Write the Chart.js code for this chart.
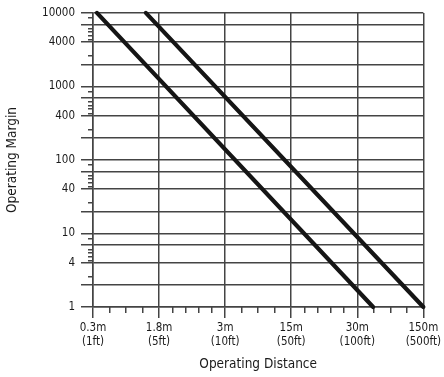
<!DOCTYPE html>
<html>
<head>
<meta charset="utf-8">
<script src="https://cdn.jsdelivr.net/npm/chart.js@4/dist/chart.umd.min.js"></script>
<style>
  html, body { margin: 0; padding: 0; background: #fff; }
  canvas { display: block; }
</style>
</head>
<body>
<canvas id="canvas" width="444" height="377"></canvas>
<script>
// distance axis: evenly spaced stations, labels in metres and feet
var distLabels = [['0.3m', '(1ft)'], ['1.8m', '(5ft)'], ['3m', '(10ft)'], ['15m', '(50ft)'], ['30m', '(100ft)'], ['150m', '(500ft)']];
var distTicks = [0, 1, 2, 3, 4, 5];
var distMinor = [0.25, 0.5, 0.75, 1.2, 1.4, 1.6, 1.8, 2.25, 2.5, 2.75, 3.2, 3.4, 3.6, 3.8, 4.25, 4.5, 4.75];

// margin axis (log)
var marginGrid = [1, 2, 4, 7, 10, 20, 40, 70, 100, 200, 400, 700, 1000, 2000, 4000, 7000, 10000];
var marginLabels = [1, 4, 10, 40, 100, 400, 1000, 4000, 10000];
var marginMinor = [2.6, 4.3, 4.9, 5.5, 6.1, 8.5,
                   26, 43, 49, 55, 61, 85,
                   260, 430, 490, 550, 610, 850,
                   2600, 4300, 4900, 5500, 6100, 8500];

// the two curves: distance station vs operating margin
var shortDist = [0.06, 4.24];
var shortMargin = [10000, 1];
var longDist = [0.8, 5];
var longMargin = [10000, 1];

function toPoints(xs, ys) {
  return xs.map(function (x, i) { return { x: x, y: ys[i] }; });
}

// 'condensed' ends up in the canvas font shorthand as font-stretch
var FONT = "'DejaVu Sans', sans-serif";
var STRETCH = 'condensed';
var GRID = '#444';
var INK = '#151515';
var TEXT = '#1a1a1a';

var ctx = document.getElementById('canvas').getContext('2d');

var chart = new Chart(ctx, {
  type: 'line',
  data: {
    datasets: [{
      data: toPoints(shortDist, shortMargin),
      borderColor: INK,
      borderWidth: 4.2,
      pointRadius: 0,
      borderCapStyle: 'round',
      clip: false
    }, {
      data: toPoints(longDist, longMargin),
      borderColor: INK,
      borderWidth: 4.2,
      pointRadius: 0,
      borderCapStyle: 'round',
      clip: false
    }]
  },
  options: {
    responsive: false,
    animation: false,
    layout: { padding: { top: 12, right: 20, left: 0, bottom: 0 } },
    plugins: {
      legend: { display: false },
      tooltip: { enabled: false }
    },
    scales: {
      x: {
        type: 'linear',
        position: 'bottom',
        min: 0,
        max: 5,
        afterBuildTicks: function (scale) {
          scale.ticks = distTicks.map(function (v) { return { value: v }; });
        },
        afterFit: function (scale) { scale.height = 70; },
        grid: { color: GRID, lineWidth: 1.5, tickLength: 11, tickColor: GRID },
        border: { display: true, color: GRID, width: 1.5 },
        ticks: {
          autoSkip: false,
          maxRotation: 0,
          padding: 3,
          color: TEXT,
          font: { family: FONT, weight: STRETCH, size: 11.5 },
          callback: function (value) { return distLabels[distTicks.indexOf(value)]; }
        },
        title: {
          display: true,
          text: 'Operating Distance',
          color: TEXT,
          font: { family: FONT, weight: STRETCH, size: 13.5 },
          padding: { top: 10 }
        }
      },
      xMinor: {
        type: 'linear',
        axis: 'x',
        position: { y: 1 },
        min: 0,
        max: 5,
        afterBuildTicks: function (scale) {
          scale.ticks = distMinor.map(function (v) { return { value: v }; });
        },
        grid: { drawOnChartArea: false, tickLength: 6, tickColor: GRID, lineWidth: 1.5 },
        border: { display: false },
        ticks: { autoSkip: false, display: false }
      },
      y: {
        type: 'logarithmic',
        position: 'left',
        min: 1,
        max: 10000,
        afterBuildTicks: function (scale) {
          scale.ticks = marginGrid.map(function (v) { return { value: v }; });
        },
        afterFit: function (scale) { scale.width = 93; },
        grid: { color: GRID, lineWidth: 1.5, tickLength: 12, tickColor: GRID },
        border: { display: true, color: GRID, width: 1.5 },
        ticks: {
          autoSkip: false,
          padding: 6,
          color: TEXT,
          font: { family: FONT, weight: STRETCH, size: 11.5 },
          callback: function (value) {
            return marginLabels.indexOf(value) >= 0 ? String(value) : '';
          }
        },
        title: {
          display: true,
          text: 'Operating Margin',
          color: TEXT,
          font: { family: FONT, weight: STRETCH, size: 13.5 },
          padding: { top: 4, bottom: 4 }
        }
      },
      yMinor: {
        type: 'logarithmic',
        axis: 'y',
        position: { x: 0 },
        min: 1,
        max: 10000,
        afterBuildTicks: function (scale) {
          scale.ticks = marginMinor.map(function (v) { return { value: v }; });
        },
        grid: { drawOnChartArea: false, tickLength: 5, tickColor: GRID, lineWidth: 1.5 },
        border: { display: false },
        ticks: { autoSkip: false, display: false }
      }
    }
  }
});
</script>
</body>
</html>
